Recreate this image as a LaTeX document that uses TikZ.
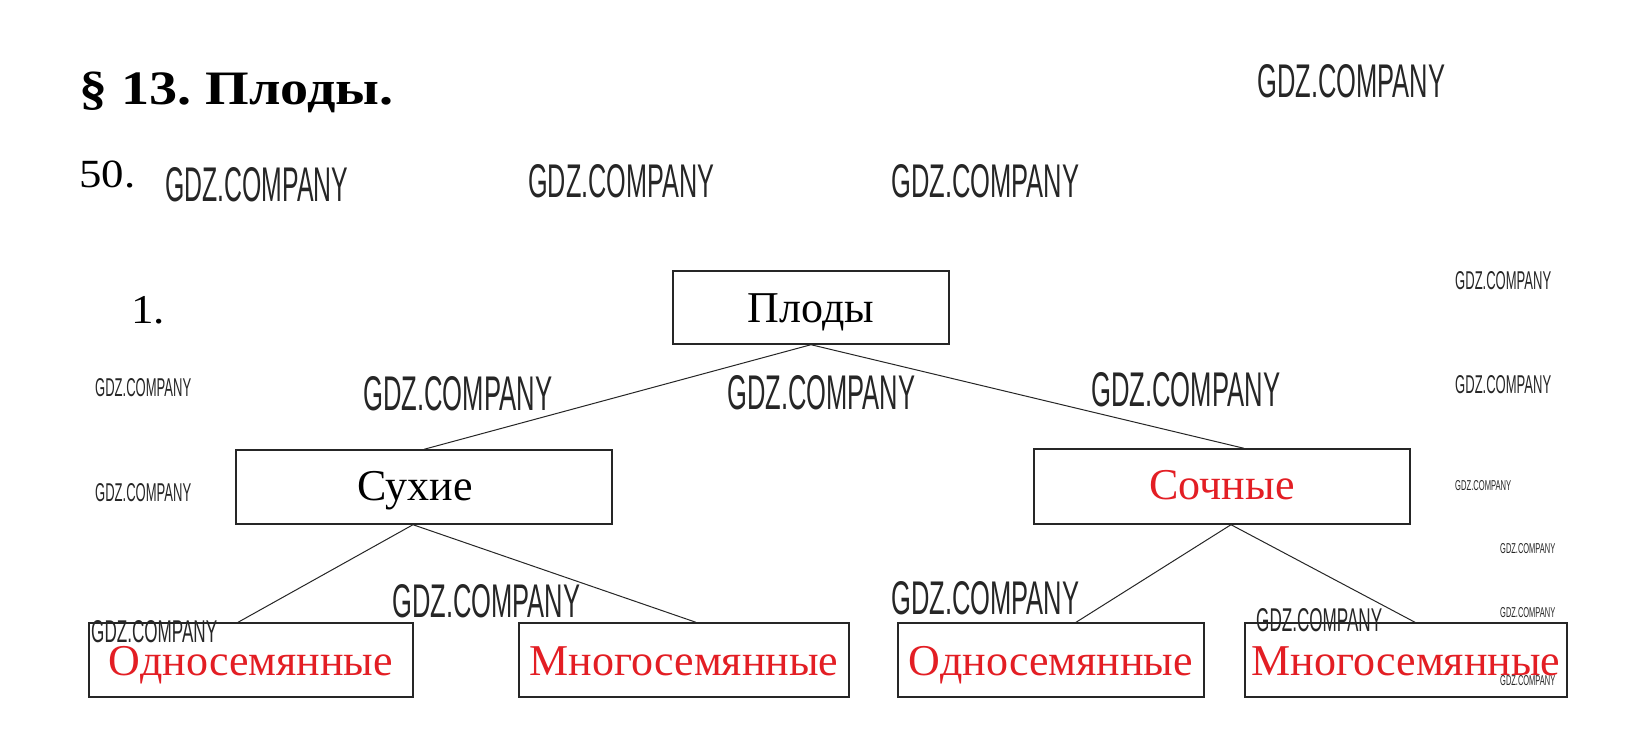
\documentclass[tikz,border=0pt]{standalone}
\usepackage{fontspec}
\setmainfont{Liberation Serif}
\newfontfamily\wmfont{Liberation Sans}
\usepackage{graphicx}
\definecolor{tred}{RGB}{227,30,36}
\tikzset{
 box/.style={draw=black!85, line width=1.4pt, rectangle, inner sep=0pt, font=\fontsize{44}{44}\selectfont, text height=30pt, text depth=0pt},
 link/.style={draw=black!85, line width=1pt},
 wm/.style={anchor=south west, inner sep=0pt, text=black!85},
 lbl/.style={anchor=base west, inner sep=0pt}
}
\newcommand{\wmark}[2]{\resizebox{#1pt}{#2pt}{\wmfont GDZ.COMPANY}}
\begin{document}
\begin{tikzpicture}[x=1pt,y=-1pt]
\useasboundingbox (0,0) rectangle (1640,755);
\fill[white] (0,0) rectangle (1640,755);
% headings
\node[lbl, font=\fontsize{48}{48}\selectfont\bfseries] (title) at (79,104) {\scalebox{1.17}[1]{§ 13.\ Плоды.}};
\node[lbl, font=\fontsize{40}{40}\selectfont] (num) at (79,187) {\scalebox{1.12}[1]{50.}};
\node[lbl, font=\fontsize{41}{41}\selectfont] (one) at (131,323) {\scalebox{1.1}[1]{1.}};
% boxes
\node[box, minimum width=276pt, minimum height=73pt] (plody) at (811,307.5) {Плоды};
\node[box, minimum width=376pt, minimum height=74pt, text height=26pt] (suhie) at (424,487) {Сухие\hspace*{18pt}};
\node[box, minimum width=376pt, minimum height=75pt, text height=26pt, text=tred] (sochn) at (1222,486.5) {Сочные};
\node[box, minimum width=324pt, minimum height=74pt, text=tred] (o1) at (251,660) {Односемянные};
\node[box, minimum width=330pt, minimum height=74pt, text=tred] (m1) at (684,660) {Многосемянные};
\node[box, minimum width=306pt, minimum height=74pt, text=tred] (o2) at (1051,660) {Односемянные};
\node[box, minimum width=322pt, minimum height=74pt, text=tred] (m2) at (1406,660) {Многосемянные};
% connectors
\draw[link] (plody.south) -- (suhie.north);
\draw[link] (plody.south) -- ([xshift=22pt]sochn.north);
\draw[link] ([xshift=-11pt]suhie.south) -- ([xshift=-13pt]o1.north);
\draw[link] ([xshift=-11pt]suhie.south) -- ([xshift=12pt]m1.north);
\draw[link] ([xshift=9pt]sochn.south) -- ([xshift=25pt]o2.north);
\draw[link] ([xshift=9pt]sochn.south) -- ([xshift=9pt]m2.north);
% watermarks
\node[wm] (w1) at (165,202) {\wmark{183}{34}};
\node[wm] (w2) at (528,198) {\wmark{186}{33}};
\node[wm] (w3) at (891,198) {\wmark{188}{33}};
\node[wm] (w4) at (1257,98) {\wmark{188}{33}};
\node[wm] (w5) at (95,397) {\wmark{96}{18}};
\node[wm] (w6) at (95,502) {\wmark{96}{18}};
\node[wm] (w7) at (363,411) {\wmark{189}{34}};
\node[wm] (w8) at (727,410) {\wmark{188}{34}};
\node[wm] (w9) at (1091,407) {\wmark{189}{34}};
\node[wm] (w10) at (1455,290) {\wmark{96}{18}};
\node[wm] (w11) at (1455,394) {\wmark{96}{18}};
\node[wm] (w12) at (1455,491) {\wmark{56}{10}};
\node[wm] (w13) at (1500,554) {\wmark{55}{10}};
\node[wm] (w14) at (392,618) {\wmark{188}{33}};
\node[wm] (w15) at (91,643) {\wmark{126}{22}};
\node[wm] (w16) at (891,615) {\wmark{188}{33}};
\node[wm] (w17) at (1256,632) {\wmark{126}{23}};
\node[wm] (w18) at (1500,618) {\wmark{55}{10}};
\node[wm] (w19) at (1500,686) {\wmark{55}{10}};
\end{tikzpicture}
\end{document}
